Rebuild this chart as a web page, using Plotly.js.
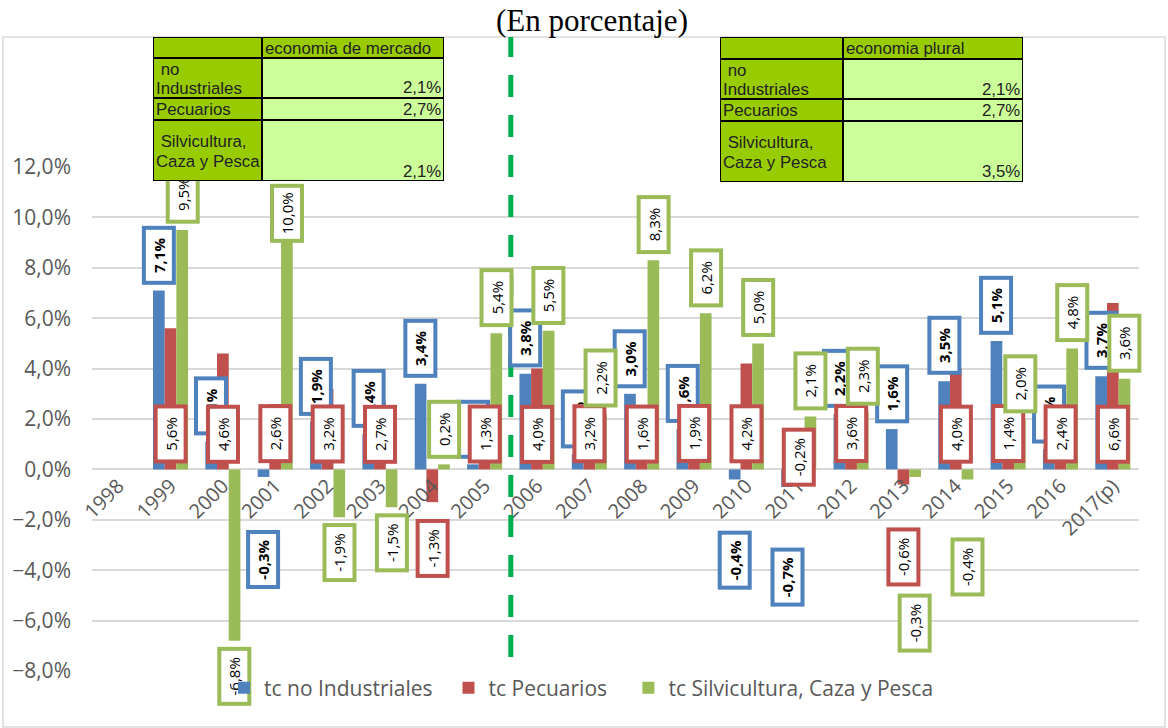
<!DOCTYPE html>
<html>
<head>
<meta charset="utf-8">
<script src="https://cdn.plot.ly/plotly-3.0.1.min.js"></script>
<style>
  html, body { margin: 0; padding: 0; background: #fff; }
  #chart { width: 1168px; height: 728px; }
</style>
</head>
<body>
<div id="chart"></div>
<script>
// ---------- data ----------
const years = ['1998','1999','2000','2001','2002','2003','2004','2005','2006','2007',
               '2008','2009','2010','2011','2012','2013','2014','2015','2016','2017(p)'];
const noIndustriales = [null, 7.1, 1.1, -0.3, 1.9, 1.4, 3.4, 0.2, 3.8, 0.6,
                        3.0, 1.6, -0.4, -0.7, 2.2, 1.6, 3.5, 5.1, 0.8, 3.7];
const pecuarios      = [null, 5.6, 4.6, 2.6, 3.2, 2.7, -1.3, 1.3, 4.0, 3.2,
                        1.6, 1.9, 4.2, -0.2, 3.6, -0.6, 4.0, 1.4, 2.4, 6.6];
const silvicultura   = [null, 9.5, -6.8, 10.0, -1.9, -1.5, 0.2, 5.4, 5.5, 2.2,
                        8.3, 6.2, 5.0, 2.1, 2.3, -0.3, -0.4, 2.0, 4.8, 3.6];
const seriesNames = ['tc no Industriales', 'tc Pecuarios', 'tc Silvicultura, Caza y Pesca'];

// summary tables
const tableRowLabels = [['\u00a0no', 'Industriales'], ['Pecuarios'], ['\u00a0Silvicultura,', 'Caza y Pesca']];
const mercadoHeader = 'economia de mercado';
const mercadoValues = ['2,1%', '2,7%', '2,1%'];
const pluralHeader = 'economia plural';
const pluralValues = ['2,1%', '2,7%', '3,5%'];

// ---------- styling ----------
const colors = ['#4F81BD', '#C0504D', '#9BBB59'];
const L = 92, R = 29, T = 167, B = 57, W = 1168 - L - R, H = 728 - T - B;
const px = x => (x - L) / W;
const py = y => (728 - B - y) / H;
const fmt = v => v.toFixed(1).replace('.', ',') + '%';

// manual label shifts (pixels) where the original labels were dragged
const labelShift = {
  0: { '2001': -53, '2010': -51, '2011': -61 },
  1: { '2004': -17, '2011': 47, '2013': -43 },
  2: { '2001': -25, '2013': -117, '2014': -58 }
};
// legend spacing (extra gap after entries)
const legendPad = ['\u00a0\u00a0', '\u00a0\u00a0\u00a0', ''];

const bargap = 0.33;
const catPx = W / years.length;
const barPx = catPx * (1 - bargap) / 3;

const data = [noIndustriales, pecuarios, silvicultura].map((vals, i) => ({
  type: 'bar', name: seriesNames[i] + legendPad[i], x: years, y: vals,
  marker: { color: colors[i] }, hoverinfo: 'skip'
}));

const annotations = [];
[noIndustriales, pecuarios, silvicultura].forEach((vals, s) => {
  vals.forEach((v, k) => {
    if (v === null) return;
    const yr = years[k];
    let y, yanchor, yshift;
    if (s === 1 && v >= 0) { y = 0; yanchor = 'bottom'; yshift = 6; }
    else if (v >= 0) { y = v; yanchor = 'bottom'; yshift = 6; }
    else { y = v; yanchor = 'top'; yshift = -6; }
    if (labelShift[s][yr] !== undefined) yshift = labelShift[s][yr];
    const txt = s === 0 ? '<b>' + fmt(v) + '</b>' : fmt(v);
    annotations.push({
      xref: 'x', yref: 'y', x: k, y: y, xshift: (s - 1) * barPx, yshift: yshift,
      xanchor: 'center', yanchor: yanchor, showarrow: false,
      text: txt, textangle: -90, width: 47, height: 22,
      bgcolor: '#FFFFFF', bordercolor: colors[s], borderwidth: 4, borderpad: 2,
      font: { family: 'Open Sans', size: 15, color: '#000' }
    });
  });
});

// table cells as annotations (drawn on top of labels)
const tFont = { family: 'Liberation Sans', size: 16.8, color: '#222' };
function cell(x0, x1, y0, y1, fill) {
  annotations.push({
    xref: 'paper', yref: 'paper', x: px(x0), y: py(y0), xanchor: 'left', yanchor: 'top',
    showarrow: false, text: '\u00a0', width: x1 - x0 - 2, height: y1 - y0 - 2,
    bgcolor: fill, bordercolor: '#000', borderwidth: 1, borderpad: 0, font: tFont
  });
}
function txt(x, y, text, xanchor) {
  annotations.push({
    xref: 'paper', yref: 'paper', x: px(x), y: py(y), xanchor: xanchor, yanchor: 'middle',
    showarrow: false, text: text, borderpad: 0, font: tFont
  });
}
function table(xa, xb, xc, rows, header, values) {
  cell(xa, xb, rows[0], rows[1], '#99CC00');
  cell(xb, xc, rows[0], rows[1], '#99CC00');
  txt(xb + 2, (rows[0] + rows[1]) / 2 + 1, header, 'left');
  for (let r = 0; r < 3; r++) {
    const top = rows[r + 1], bot = rows[r + 2];
    cell(xa, xb, top, bot, '#99CC00');
    cell(xb, xc, top, bot, '#CCFF99');
    const lines = tableRowLabels[r];
    const mid = (top + bot) / 2 + 1;
    lines.forEach((ln, i) => txt(xa + 2, mid + (i - (lines.length - 1) / 2) * 19, ln, 'left'));
    txt(xc - 2, bot - 10, values[r], 'right');
  }
}
table(153, 262, 444, [37, 58, 98, 120, 181], mercadoHeader, mercadoValues);
table(720, 843, 1023, [37, 59, 99, 121, 182], pluralHeader, pluralValues);

const shapes = [
  { type: 'rect', xref: 'paper', yref: 'paper', x0: px(3), x1: px(1165), y0: py(727), y1: py(37),
    line: { color: '#D9D9D9', width: 1.5 }, layer: 'below' },
  { type: 'line', xref: 'x', yref: 'paper', x0: 7.5, x1: 7.5, y0: py(657), y1: py(37),
    line: { color: '#00B050', width: 5, dash: '22px,18px' }, layer: 'above' }
];

const layout = {
  width: 1168, height: 728,
  margin: { l: L, r: R, t: T, b: B },
  paper_bgcolor: '#fff', plot_bgcolor: '#fff',
  separators: ',.',
  barmode: 'group', bargap: bargap, bargroupgap: 0,
  hovermode: false,
  title: { text: '(En porcentaje)', xref: 'container', yref: 'container',
           x: 592 / 1168, y: 1 - 20 / 728, xanchor: 'center', yanchor: 'middle',
           font: { family: 'Liberation Serif', size: 31, color: '#000' } },
  xaxis: { type: 'category', categoryorder: 'array', categoryarray: years,
           range: [-0.5, years.length - 0.5], autorange: false,
           anchor: 'free', position: 8 / 20, showgrid: false, showline: false, zeroline: false,
           ticks: '', tickangle: -45, automargin: false,
           tickfont: { family: 'Open Sans', size: 20, color: '#595959' } },
  yaxis: { range: [-8, 12], autorange: false, dtick: 2, tick0: 0, tickformat: '.1f', ticksuffix: '%',
           showgrid: true, gridcolor: '#D9D9D9', gridwidth: 2,
           zeroline: true, zerolinecolor: '#D9D9D9', zerolinewidth: 2,
           showline: false, ticks: '', ticklabelstandoff: 20, automargin: false,
           tickfont: { family: 'Open Sans', size: 21, color: '#595959' } },
  showlegend: true,
  legend: { orientation: 'h', x: px(224), xanchor: 'left', y: py(688), yanchor: 'middle',
            bgcolor: 'rgba(0,0,0,0)', font: { family: 'Open Sans', size: 21, color: '#595959' },
            traceorder: 'normal' },
  annotations: annotations,
  shapes: shapes
};

Plotly.newPlot('chart', data, layout, { staticPlot: true, displayModeBar: false }).then(gd => {
  // legend sits above the data labels, as in the original
  const info = gd.querySelector('.infolayer');
  const lg = info && info.querySelector('.legend');
  if (lg) info.appendChild(lg);
});
</script>
</body>
</html>
